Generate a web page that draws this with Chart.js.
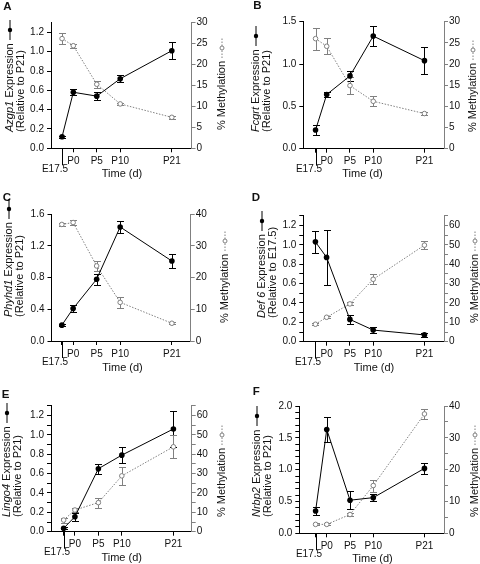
<!DOCTYPE html>
<html><head><meta charset="utf-8">
<script src="https://cdn.jsdelivr.net/npm/chart.js@4.4.1/dist/chart.umd.min.js"></script>
<style>
html,body{margin:0;padding:0;background:#fff;}
body{width:480px;height:564px;position:relative;overflow:hidden;font-family:'Liberation Sans',Arial,sans-serif;color:#111;}
canvas{position:absolute;}
.lbl{position:absolute;font-weight:bold;font-size:11.5px;line-height:11.5px;}
.rot{position:absolute;transform-origin:0 0;transform:rotate(-90deg);font-size:11px;line-height:11px;white-space:nowrap;text-align:left;}
.time{position:absolute;transform:translate(-50%,-50%);font-size:11px;line-height:11px;white-space:nowrap;}
.rot svg{vertical-align:middle;}
</style></head><body>
<script>
// ---- data ----
const timeLabels = ['E17.5', 'P0', 'P5', 'P10', 'P21'];
const timeDays = [-2.4, 0, 5, 10, 21];

const azgp1Expression = [0.12, 0.58, 0.54, 0.72, 1.01];
const azgp1ExpressionErr = [0.01, 0.03, 0.04, 0.035, 0.09];
const azgp1Methylation = [26.2, 24.5, 15.3, 10.6, 7.4];
const azgp1MethylationErr = [1.4, 0.5, 0.8, 0.3, 0.4];

const fcgrtExpression = [0.22, 0.64, 0.86, 1.33, 1.04];
const fcgrtExpressionErr = [0.06, 0.035, 0.06, 0.12, 0.16];
const fcgrtMethylation = [26.0, 24.2, 14.9, 11.2, 8.3];
const fcgrtMethylationErr = [2.6, 1.9, 2.0, 1.2, 0.3];

const phyhd1Expression = [0.20, 0.41, 0.78, 1.44, 1.01];
const phyhd1ExpressionErr = [0.01, 0.05, 0.07, 0.08, 0.09];
const phyhd1Methylation = [36.8, 37.4, 23.7, 12.2, 5.6];
const phyhd1MethylationErr = [0.6, 0.8, 1.5, 1.7, 0.3];

const def6Expression = [1.03, 0.87, 0.23, 0.12, 0.07];
const def6ExpressionErr = [0.11, 0.28, 0.045, 0.035, 0.02];
const def6Methylation = [9.0, 12.6, 19.5, 32.2, 49.8];
const def6MethylationErr = [0.4, 0.5, 0.8, 2.6, 2.0];

const lingo4Expression = [0.035, 0.155, 0.65, 0.79, 1.06];
const lingo4ExpressionErr = [0.01, 0.04, 0.05, 0.08, 0.19];
const lingo4Methylation = [6.0, 11.2, 15.0, 28.8, 43.8];
const lingo4MethylationErr = [1.3, 1.1, 2.6, 4.5, 6.0];

const nrbp2Expression = [0.35, 1.63, 0.52, 0.56, 1.02];
const nrbp2ExpressionErr = [0.06, 0.2, 0.14, 0.06, 0.09];
const nrbp2Methylation = [2.8, 2.8, 5.9, 15.0, 37.5];
const nrbp2MethylationErr = [0.3, 0.3, 0.4, 1.9, 1.5];

// ---- layout / style ----
const FONT = "'Liberation Sans', Arial, sans-serif";
const GRAY = '#808080';
Chart.defaults.font.family = FONT;

const panels = [
  {letter:'A', gene:'Azgp1', rel:'P21', expr:azgp1Expression, exprErr:azgp1ExpressionErr, meth:azgp1Methylation, methErr:azgp1MethylationErr,
   ox:0, oy:0, h:185, L:51, R:191.5, T:22.7, B:148.3, xmin:-4.76, xmax:25.2,
   yMax:1.3, yStep:0.2, yLab:0.2, y1Max:30, y1Step:5, y1Lab:5,
   let:[3.3,2.7], lt:[4,132], rt:[216,130], tm:[122,173.3]},
  {letter:'B', gene:'Fcgrt', rel:'P21', expr:fcgrtExpression, exprErr:fcgrtExpressionErr, meth:fcgrtMethylation, methErr:fcgrtMethylationErr,
   ox:240, oy:0, h:185, L:63.3, R:204, T:21.7, B:148.7, xmin:-5.03, xmax:25.2,
   yMax:1.5, yStep:0.5, yLab:0.5, y1Max:30, y1Step:5, y1Lab:5,
   let:[253.3,1.7], lt:[250,132], rt:[467,131.7], tm:[362.5,173.3]},
  {letter:'C', gene:'Phyhd1', rel:'P21', expr:phyhd1Expression, exprErr:phyhd1ExpressionErr, meth:phyhd1Methylation, methErr:phyhd1MethylationErr,
   ox:0, oy:185, h:190, L:51.5, R:190.7, T:29.3, B:156, xmin:-4.6, xmax:25.0,
   yMax:1.6, yStep:0.4, yLab:0.4, y1Max:40, y1Step:10, y1Lab:10,
   let:[2.7,193.3], lt:[3,316.7], rt:[219,323], tm:[122.5,366.7]},
  {letter:'D', gene:'Def 6', rel:'E17.5', expr:def6Expression, exprErr:def6ExpressionErr, meth:def6Methylation, methErr:def6MethylationErr,
   ox:240, oy:185, h:190, L:63.3, R:204, T:30.7, B:156.7, xmin:-5.0, xmax:25.2,
   yMax:1.3, yStep:0.1, yLab:0.2, y1Max:65, y1Step:5, y1Lab:10,
   let:[251.7,193.3], lt:[256,318], rt:[469,323], tm:[374,366.7]},
  {letter:'E', gene:'Lingo4', rel:'P21', expr:lingo4Expression, exprErr:lingo4ExpressionErr, meth:lingo4Methylation, methErr:lingo4MethylationErr,
   ox:0, oy:375, h:189, L:51, R:191.7, T:30.7, B:156.7, xmin:-5.1, xmax:24.9,
   yMax:1.3, yStep:0.1, yLab:0.2, y1Max:65, y1Step:5, y1Lab:10,
   let:[1.7,390], lt:[1,516.7], rt:[216,516.7], tm:[121.7,556.7]},
  {letter:'F', gene:'Nrbp2', rel:'P21', expr:nrbp2Expression, exprErr:nrbp2ExpressionErr, meth:nrbp2Methylation, methErr:nrbp2MethylationErr,
   ox:240, oy:375, h:189, L:59.3, R:204, T:31, B:158.3, xmin:-5.9, xmax:25.2,
   yMax:2.0, yStep:0.1, yLab:0.5, y1Max:40, y1Step:5, y1Lab:10,
   let:[252.7,387.7], lt:[251,516.7], rt:[469,516.7], tm:[372.5,557.7]}
];

const isMult = (v, s) => Math.abs(v / s - Math.round(v / s)) < 1e-6;

const exprSym = '<svg width="20" height="8"><line x1="0" y1="4" x2="20" y2="4" stroke="#000" stroke-width="1"/><circle cx="10" cy="4" r="2.2" fill="#000"/></svg>';
const methSym = '<svg width="20" height="8"><line x1="0" y1="4" x2="20" y2="4" stroke="' + GRAY + '" stroke-width="1" stroke-dasharray="1.5,1.5"/><circle cx="10" cy="4" r="2" fill="#fff" stroke="' + GRAY + '" stroke-width="1"/></svg>';

const errorBars = {
  id: 'errorBars',
  beforeDatasetsDraw(chart) {
    const ctx = chart.ctx, xs = chart.scales.x;
    chart.data.datasets.forEach(ds => {
      if (!ds.errors) return;
      const ys = chart.scales[ds.yAxisID];
      ctx.save();
      ctx.strokeStyle = ds.errColor;
      ctx.lineWidth = 1;
      ds.data.forEach((pt, i) => {
        const e = ds.errors[i];
        const px = Math.round(xs.getPixelForValue(pt.x)) + 0.5;
        const y0 = Math.round(ys.getPixelForValue(pt.y - e)) + 0.5;
        const y1 = Math.round(ys.getPixelForValue(pt.y + e)) + 0.5;
        ctx.beginPath();
        ctx.moveTo(px, y0); ctx.lineTo(px, y1);
        ctx.moveTo(px - 3.5, y0); ctx.lineTo(px + 3.5, y0);
        ctx.moveTo(px - 3.5, y1); ctx.lineTo(px + 3.5, y1);
        ctx.stroke();
      });
      ctx.restore();
    });
  }
};

const embryoTick = {
  id: 'embryoTick',
  afterDraw(chart) {
    const ctx = chart.ctx, xs = chart.scales.x;
    const px = Math.round(xs.getPixelForValue(timeDays[0])) + 0.5;
    const b = chart.chartArea.bottom;
    ctx.save();
    ctx.strokeStyle = '#000';
    ctx.lineWidth = 1;
    ctx.beginPath();
    ctx.moveTo(px, b); ctx.lineTo(px, b + 17);
    ctx.stroke();
    ctx.fillStyle = '#111';
    ctx.font = '10px ' + FONT;
    ctx.textAlign = 'center';
    ctx.textBaseline = 'middle';
    ctx.fillText(timeLabels[0], px - 7.5, b + 21);
    ctx.restore();
  }
};

function addDiv(cls, x, y, html) {
  const d = document.createElement('div');
  d.className = cls;
  d.style.left = x + 'px';
  d.style.top = y + 'px';
  d.innerHTML = html;
  document.body.appendChild(d);
}

panels.forEach(p => {
  const cv = document.createElement('canvas');
  cv.width = 240; cv.height = p.h;
  cv.style.left = p.ox + 'px'; cv.style.top = p.oy + 'px';
  cv.style.width = '240px'; cv.style.height = p.h + 'px';
  document.body.appendChild(cv);

  const tickFont = {family: FONT, size: 10};
  new Chart(cv.getContext('2d'), {
    type: 'line',
    data: {
      datasets: [
        {label: 'Expression', data: timeDays.map((x, i) => ({x: x, y: p.expr[i]})), errors: p.exprErr, errColor: '#000',
         yAxisID: 'y', borderColor: '#000', backgroundColor: '#000', borderWidth: 1,
         pointRadius: 2.8, pointBackgroundColor: '#000', pointBorderWidth: 0, order: 0, tension: 0},
        {label: 'Methylation', data: timeDays.map((x, i) => ({x: x, y: p.meth[i]})), errors: p.methErr, errColor: GRAY,
         yAxisID: 'y1', borderColor: GRAY, borderDash: [1.5, 1.5], borderWidth: 1,
         pointRadius: 2.3, pointBackgroundColor: '#fff', pointBorderColor: GRAY, pointBorderWidth: 1, order: 1, tension: 0}
      ]
    },
    options: {
      responsive: false, animation: false, devicePixelRatio: 1,
      layout: {padding: {top: p.T, left: 0, right: 0, bottom: 0}},
      plugins: {legend: {display: false}, tooltip: {enabled: false}},
      scales: {
        x: {
          type: 'linear', position: 'bottom', min: p.xmin, max: p.xmax,
          afterBuildTicks: s => { s.ticks = timeDays.map(v => ({value: v})); },
          afterFit: s => { s.height = p.h - p.B; },
          grid: {display: true, drawOnChartArea: false, drawTicks: true, tickLength: 4, color: '#000'},
          border: {display: true, color: '#000', width: 1},
          ticks: {autoSkip: false, maxRotation: 0, padding: 3, font: tickFont, color: '#111',
                  callback: (v, i) => (i === 0 ? '' : timeLabels[i])}
        },
        y: {
          type: 'linear', position: 'left', min: 0, max: p.yMax,
          afterFit: s => { s.width = p.L; },
          grid: {display: true, drawOnChartArea: false, drawTicks: true, tickLength: 4, color: '#000'},
          border: {display: true, color: '#000', width: 1},
          ticks: {stepSize: p.yStep, autoSkip: false, includeBounds: false, padding: 3, font: tickFont, color: '#111',
                  callback: v => (isMult(v, p.yLab) ? v.toFixed(1) : '')}
        },
        y1: {
          type: 'linear', position: 'right', min: 0, max: p.y1Max,
          afterFit: s => { s.width = 240 - p.R; },
          grid: {display: true, drawOnChartArea: false, drawTicks: true, tickLength: 4, color: GRAY},
          border: {display: true, color: GRAY, width: 1},
          ticks: {stepSize: p.y1Step, autoSkip: false, includeBounds: false, padding: 1, font: tickFont, color: '#111',
                  callback: v => (isMult(v, p.y1Lab) ? String(Math.round(v)) : '')}
        }
      }
    },
    plugins: [errorBars, embryoTick]
  });

  addDiv('lbl', p.let[0], p.let[1] - 1.5, p.letter);
  addDiv('rot', p.lt[0], p.lt[1], '<i>' + p.gene + '</i> Expression ' + exprSym + '<br>(Relative to ' + p.rel + ')');
  addDiv('rot', p.rt[0], p.rt[1], '% Methylation ' + methSym);
  addDiv('time', p.tm[0], p.tm[1], 'Time (d)');
});
</script>
</body></html>
